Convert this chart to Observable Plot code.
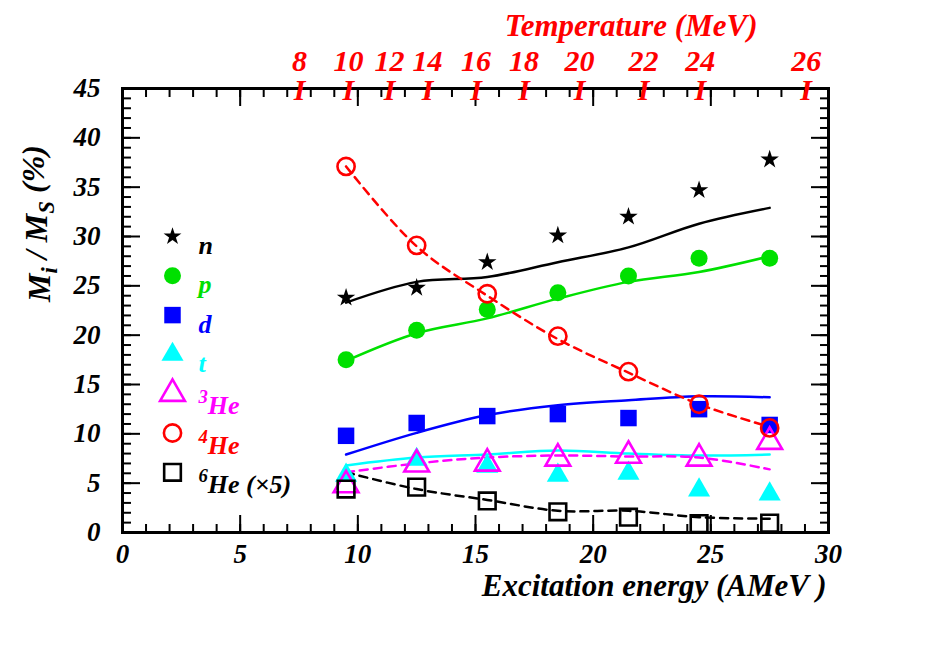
<!DOCTYPE html>
<html>
<head>
<meta charset="utf-8">
<script src="https://cdn.jsdelivr.net/npm/d3@7"></script>
<script src="https://cdn.jsdelivr.net/npm/@observablehq/plot@0.6"></script>
<style>
  body { margin: 0; background: #fff; }
  #chart svg { display: block; }
  #chart svg text { font-family: "Liberation Serif", "Times New Roman", "DejaVu Serif", serif !important; }
</style>
</head>
<body>
<div id="chart"></div>
<script>
// Excitation energies (AMeV) of the measured bins
const energy = [9.5, 12.5, 15.5, 18.5, 21.5, 24.5, 27.5];

// Measured mass fractions M_i / M_S (%)
const nData   = [23.8, 24.8, 27.4, 30.1, 32.0, 34.7, 37.8];
const pData   = [17.5, 20.5, 22.6, 24.3, 26.0, 27.8, 27.8];
const dData   = [9.8, 11.1, 11.8, 12.0, 11.6, 12.5, 10.9];
const tData   = [5.8, 7.4, 6.7, 5.8, 6.0, 4.3, 3.9];
const he3Data = [4.8, 6.9, 7.0, 7.5, 7.8, 7.5, 9.2];
const he4Data = [37.1, 29.1, 24.2, 19.9, 16.3, 13.0, 10.6];
const he6Data = [4.4, 4.6, 3.2, 2.1, 1.55, 0.9, 0.95];

// Model curves
const nModel   = [23.3, 25.4, 25.9, 27.4, 28.9, 31.3, 32.9];
const pModel   = [17.4, 20.2, 21.7, 23.7, 25.4, 26.4, 28.0];
const dModel   = [7.9, 10.1, 11.9, 12.9, 13.4, 13.8, 13.7];
const tModel   = [6.8, 7.6, 7.9, 8.3, 8.0, 7.8, 7.9];
const he3Model = [6.1, 7.0, 7.6, 7.8, 7.7, 7.6, 6.4];
const he4Model = [37.1, 29.0, 24.0, 19.6, 16.2, 13.0, 10.7];
const he6Model = [6.1, 4.4, 3.3, 2.2, 2.2, 1.55, 1.4];

// Axis ticks
const xTicks = [0, 5, 10, 15, 20, 25, 30];
const yTicks = [0, 5, 10, 15, 20, 25, 30, 35, 40, 45];
const xMinor = d3.range(0, 31, 1);
const yMinor = d3.range(0, 46, 1);

// Temperature scale along the top edge (label, excitation energy)
const tempLabels = ["8", "10", "12", "14", "16", "18", "20", "22", "24", "26"];
const tempEnergy = [7.52, 9.6, 11.35, 12.96, 15.02, 17.06, 19.42, 22.14, 24.55, 29.05];

// Legend entries
const legendLabels = ["n", "p", "d", "t", "3He", "4He", "6He (\u00d75)"];
const legendColors = ["#000000", "#00e000", "#0000ff", "#00ffff", "#ff00ff", "#ff0000", "#000000"];

const rows = (ys) => energy.map((x, i) => ({x, y: ys[i]}));
const serif = "Liberation Serif";
const font = {fontFamily: serif, fontWeight: "bold", fontStyle: "italic"};

const GREEN = "#00e000", BLUE = "#0000ff", CYAN = "#00ffff", MAGENTA = "#ff00ff", RED = "#ff0000";

// Legend markers, one per row
const legendSymbols = [
  {symbol: "star", r: 5.6, fill: "#000", stroke: "none"},
  {symbol: "circle", r: 8.5, fill: GREEN, stroke: "none"},
  {symbol: "square", r: 9.3, fill: BLUE, stroke: "none"},
  {symbol: "triangle", r: 8.2, fill: CYAN, stroke: "none"},
  {symbol: "triangle", r: 9.2, fill: "none", stroke: MAGENTA},
  {symbol: "circle", r: 8.6, fill: "none", stroke: RED},
  {symbol: "square", r: 9.4, fill: "none", stroke: "#000"}
];
const legendMarks = legendLabels.flatMap((label, i) => {
  const dy = 148 + i * 39.3;
  const s = legendSymbols[i];
  return [
    Plot.dot([0], {frameAnchor: "top-left", dx: 50, dy, symbol: s.symbol, r: s.r,
      fill: s.fill, stroke: s.stroke, strokeWidth: 2.6}),
    Plot.text([label], {frameAnchor: "top-left", dx: 76, dy: dy - 1, text: d => d,
      textAnchor: "start", fill: legendColors[i], fontSize: 26, ...font})
  ];
});

const chart = Plot.plot({
  width: 946,
  height: 650,
  marginLeft: 122,
  marginRight: 118,
  marginTop: 88,
  marginBottom: 118,
  style: {background: "#fff", overflow: "visible"},
  x: {domain: [0, 30], axis: null},
  y: {domain: [0, 45], axis: null},
  marks: [
    // tick marks pointing into the frame on all four sides
    Plot.axisX({anchor: "bottom", ticks: xMinor, tickSize: -8, strokeWidth: 2, tickFormat: () => "", label: null}),
    Plot.axisX({anchor: "bottom", ticks: xTicks, tickSize: -17, strokeWidth: 2, tickFormat: () => "", label: null}),
    Plot.axisX({anchor: "top", ticks: xMinor, tickSize: -8, strokeWidth: 2, tickFormat: () => "", label: null}),
    Plot.axisX({anchor: "top", ticks: xTicks, tickSize: -17, strokeWidth: 2, tickFormat: () => "", label: null}),
    Plot.axisY({anchor: "left", ticks: yMinor, tickSize: -9, strokeWidth: 2, tickFormat: () => "", label: null}),
    Plot.axisY({anchor: "left", ticks: yTicks, tickSize: -18, strokeWidth: 2, tickFormat: () => "", label: null}),
    Plot.axisY({anchor: "right", ticks: yMinor, tickSize: -9, strokeWidth: 2, tickFormat: () => "", label: null}),
    Plot.axisY({anchor: "right", ticks: yTicks, tickSize: -18, strokeWidth: 2, tickFormat: () => "", label: null}),

    // tick labels
    Plot.axisX({anchor: "bottom", ticks: xTicks, tickSize: 0, tickPadding: 11, label: null,
      fontSize: 27, fill: "#000", ...font}),
    Plot.axisY({anchor: "left", ticks: yTicks, tickSize: 0, tickPadding: 22, label: null,
      fontSize: 27, fill: "#000", ...font}),

    Plot.frame({stroke: "#000", strokeWidth: 3}),

    // model curves
    Plot.line(rows(nModel), {x: "x", y: "y", stroke: "#000", strokeWidth: 2.5, curve: "catmull-rom"}),
    Plot.line(rows(pModel), {x: "x", y: "y", stroke: GREEN, strokeWidth: 2.5, curve: "catmull-rom"}),
    Plot.line(rows(dModel), {x: "x", y: "y", stroke: BLUE, strokeWidth: 2.5, curve: "catmull-rom"}),
    Plot.line(rows(tModel), {x: "x", y: "y", stroke: CYAN, strokeWidth: 2.5, curve: "catmull-rom"}),
    Plot.line(rows(he3Model), {x: "x", y: "y", stroke: MAGENTA, strokeWidth: 2.5, strokeDasharray: "8,6", curve: "catmull-rom"}),
    Plot.line(rows(he4Model), {x: "x", y: "y", stroke: RED, strokeWidth: 2.5, strokeDasharray: "8,6", curve: "catmull-rom"}),
    Plot.line(rows(he6Model), {x: "x", y: "y", stroke: "#000", strokeWidth: 2.5, strokeDasharray: "8,6", curve: "catmull-rom"}),

    // measured points
    Plot.dot(rows(nData), {x: "x", y: "y", symbol: "star", r: 5.8, fill: "#000"}),
    Plot.dot(rows(pData), {x: "x", y: "y", symbol: "circle", r: 8.5, fill: GREEN}),
    Plot.dot(rows(dData), {x: "x", y: "y", symbol: "square", r: 9.3, fill: BLUE}),
    Plot.dot(rows(tData), {x: "x", y: "y", symbol: "triangle", r: 8.2, fill: CYAN}),
    Plot.dot(rows(he3Data), {x: "x", y: "y", symbol: "triangle", r: 9.2, fill: "none", stroke: MAGENTA, strokeWidth: 2.6}),
    Plot.dot(rows(he4Data), {x: "x", y: "y", symbol: "circle", r: 8.6, fill: "none", stroke: RED, strokeWidth: 2.6}),
    Plot.dot(rows(he6Data), {x: "x", y: "y", symbol: "square", r: 9.4, fill: "none", stroke: "#000", strokeWidth: 2.6}),

    // legend
    ...legendMarks,

    // temperature scale on top: value above an "I" marker
    Plot.text(tempLabels, {x: (d, i) => tempEnergy[i], frameAnchor: "top", dy: -12, text: d => `${d}\nI`,
      lineHeight: 0.95, lineAnchor: "middle", textAnchor: "middle", fill: RED, fontSize: 30, ...font}),
    Plot.text(["Temperature (MeV)"], {frameAnchor: "top-right", textAnchor: "end", dx: -71, dy: -75,
      text: d => d, fill: RED, fontSize: 31, ...font}),

    // axis titles
    Plot.text(["Excitation energy (AMeV )"], {frameAnchor: "bottom-right", textAnchor: "end", dx: -2, dy: 63,
      text: d => d, fill: "#000", fontSize: 31, ...font}),
    Plot.text(["M_i / M_S (%)"], {frameAnchor: "left", textAnchor: "middle", rotate: -90, dx: -83, dy: -87,
      text: d => d, fill: "#000", fontSize: 32, ...font})
  ]
});

// Superscript isotope numbers and subscripted mass symbols
d3.select(chart).selectAll("text").each(function () {
  const t = this.textContent;
  const iso = t.match(/^(\d)(He.*)$/);
  if (iso) {
    const el = d3.select(this).text("");
    el.append("tspan").attr("font-size", "0.72em").attr("dy", "-0.42em").text(iso[1]);
    el.append("tspan").attr("dy", "0.42em").text(iso[2]);
  } else if (t === "M_i / M_S (%)") {
    const el = d3.select(this).text("");
    el.append("tspan").text("M");
    el.append("tspan").attr("font-size", "0.72em").attr("dy", "0.3em").text("i");
    el.append("tspan").attr("dy", "-0.3em").text(" / M");
    el.append("tspan").attr("font-size", "0.72em").attr("dy", "0.3em").text("S");
    el.append("tspan").attr("dy", "-0.3em").text(" (%)");
  }
});

document.getElementById("chart").appendChild(chart);
</script>
</body>
</html>
